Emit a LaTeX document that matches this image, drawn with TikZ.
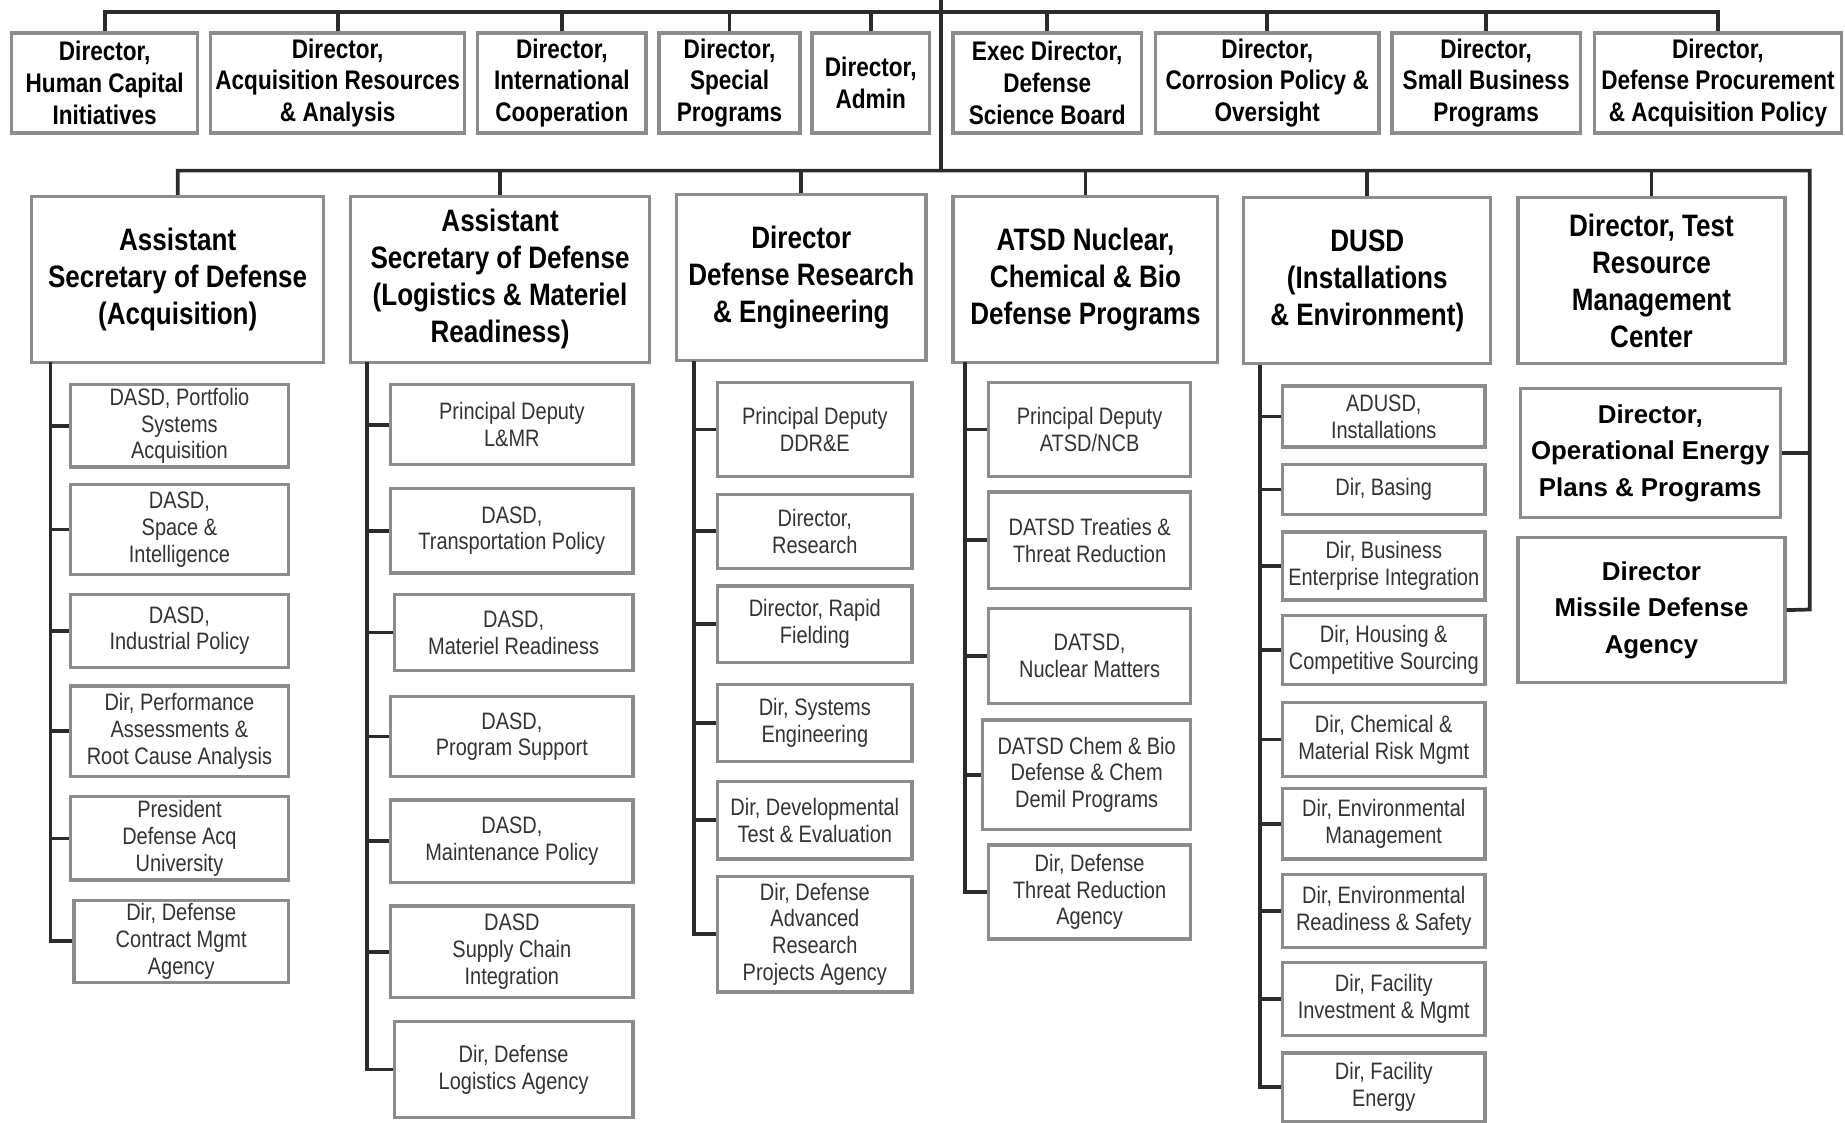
\documentclass[tikz,border=0pt]{standalone}
\usepackage{fontspec}
\setmainfont{Liberation Sans}[FakeStretch=0.84]
\newfontfamily\widefont{Liberation Sans}
\definecolor{boxgray}{HTML}{8C8C8C}
\definecolor{wiregray}{HTML}{2B2B2B}
\tikzset{
  box/.style={draw=boxgray, line width=1.6pt, fill=white, align=center, inner sep=1pt},
  topbox/.style={box, minimum height=1.7cm, font=\fontsize{13}{15.3}\selectfont\bfseries},
  headbox/.style={box, minimum height=2.82cm, font=\fontsize{15}{17.9}\selectfont\bfseries},
  sidebox/.style={box, font=\widefont\fontsize{12.5}{17.6}\selectfont\bfseries},
  subbox/.style={box, font=\fontsize{11.5}{13}\selectfont, text=black!80},
  wire/.style={draw=wiregray, line width=1.8pt},
}
\begin{document}
\begin{tikzpicture}[x=0.02cm, y=-0.02cm]
  \useasboundingbox (0,0) rectangle (1568,954);
  % first row of directors
  \node[topbox, minimum width=3.16cm] (hc) at (89,70.5) {Director,\\Human Capital\\Initiatives};
  \node[topbox, minimum width=4.32cm] (ar) at (287,70.5) {Director,\\Acquisition Resources\\\& Analysis};
  \node[topbox, minimum width=2.86cm] (ic) at (477.5,70.5) {Director,\\International\\Cooperation};
  \node[topbox, minimum width=2.4cm] (sp) at (620,70.5) {Director,\\Special\\Programs};
  \node[topbox, minimum width=2.0cm] (adm) at (740,70.5) {Director,\\Admin};
  \node[topbox, minimum width=3.2cm] (dsb) at (890,70.5) {Exec Director,\\Defense\\Science Board};
  \node[topbox, minimum width=3.8cm] (cpo) at (1077,70.5) {Director,\\Corrosion Policy \&\\Oversight};
  \node[topbox, minimum width=3.2cm] (sb) at (1263,70.5) {Director,\\Small Business\\Programs};
  \node[topbox, minimum width=4.2cm] (dpap) at (1460,70.5) {Director,\\Defense Procurement\\\& Acquisition Policy};
  % second row
  \node[headbox, minimum width=4.96cm] (asda) at (151,237.5) {Assistant\\Secretary of Defense\\(Acquisition)};
  \node[headbox, minimum width=5.08cm] (asdl) at (425,237.5) {Assistant\\Secretary of Defense\\(Logistics \& Materiel\\Readiness)};
  \node[headbox, minimum width=4.24cm] (ddre) at (681,236) {Director\\Defense Research\\\& Engineering};
  \node[headbox, minimum width=4.5cm] (atsd) at (922.5,237.5) {ATSD Nuclear,\\Chemical \& Bio\\Defense Programs};
  \node[headbox, minimum width=4.2cm] (dusd) at (1162,238.5) {DUSD\\(Installations\\\& Environment)};
  \node[headbox, minimum width=4.54cm] (trmc) at (1403.5,238.5) {Director, Test\\Resource\\Management\\Center};
  \node[sidebox, minimum width=4.42cm, minimum height=2.2cm] (oe) at (1402.5,385) {Director,\\Operational Energy\\Plans \& Programs};
  \node[sidebox, minimum width=4.54cm, minimum height=2.46cm] (mda) at (1403.5,518.5) {Director\\Missile Defense\\Agency};
  % acquisition column
  \node[subbox, minimum width=3.7cm, minimum height=1.4cm] (a1) at (152.5,362) {DASD, Portfolio\\Systems\\Acquisition};
  \node[subbox, minimum width=3.7cm, minimum height=1.52cm] (a2) at (152.5,450) {DASD,\\Space \&\\Intelligence};
  \node[subbox, minimum width=3.7cm, minimum height=1.24cm] (a3) at (152.5,536) {DASD,\\Industrial Policy};
  \node[subbox, minimum width=3.7cm, minimum height=1.54cm] (a4) at (152.5,621.5) {Dir, Performance\\Assessments \&\\Root Cause Analysis};
  \node[subbox, minimum width=3.7cm, minimum height=1.42cm] (a5) at (152.5,712.5) {President\\Defense Acq\\University};
  \node[subbox, minimum width=3.64cm, minimum height=1.4cm] (a6) at (154,800) {Dir, Defense\\Contract Mgmt\\Agency};
  % logistics column
  \node[subbox, minimum width=4.12cm, minimum height=1.36cm] (b1) at (435,361) {Principal Deputy\\L\&MR};
  \node[subbox, minimum width=4.12cm, minimum height=1.44cm] (b2) at (435,451) {DASD,\\Transportation Policy};
  \node[subbox, minimum width=4.06cm, minimum height=1.3cm] (b3) at (436.5,537.5) {DASD,\\Materiel Readiness};
  \node[subbox, minimum width=4.12cm, minimum height=1.36cm] (b4) at (435,626) {DASD,\\Program Support};
  \node[subbox, minimum width=4.12cm, minimum height=1.4cm] (b5) at (435,715) {DASD,\\Maintenance Policy};
  \node[subbox, minimum width=4.12cm, minimum height=1.56cm] (b6) at (435,809) {DASD\\Supply Chain\\Integration};
  \node[subbox, minimum width=4.06cm, minimum height=1.64cm] (b7) at (436.5,909) {Dir, Defense\\Logistics Agency};
  % research column
  \node[subbox, minimum width=3.3cm, minimum height=1.6cm] (c1) at (692.5,365) {Principal Deputy\\DDR\&E};
  \node[subbox, minimum width=3.3cm, minimum height=1.26cm] (c2) at (692.5,451.5) {Director,\\Research};
  \node[subbox, minimum width=3.3cm, minimum height=1.3cm] (c3) at (692.5,530.5) {Director, Rapid\\Fielding};
  \node[subbox, minimum width=3.3cm, minimum height=1.3cm] (c4) at (692.5,614.5) {Dir, Systems\\Engineering};
  \node[subbox, minimum width=3.3cm, minimum height=1.32cm] (c5) at (692.5,697) {Dir, Developmental\\Test \& Evaluation};
  \node[subbox, minimum width=3.3cm, minimum height=1.96cm] (c6) at (692.5,794) {Dir, Defense\\Advanced\\Research\\Projects Agency};
  % nuclear, chemical and bio column
  \node[subbox, minimum width=3.44cm, minimum height=1.6cm] (d1) at (926,365) {Principal Deputy\\ATSD/NCB};
  \node[subbox, minimum width=3.44cm, minimum height=1.64cm] (d2) at (926,459) {DATSD Treaties \&\\Threat Reduction};
  \node[subbox, minimum width=3.44cm, minimum height=1.62cm] (d3) at (926,557.5) {DATSD,\\Nuclear Matters};
  \node[subbox, minimum width=3.54cm, minimum height=1.86cm] (d4) at (923.5,658.5) {DATSD Chem \& Bio\\Defense \& Chem\\Demil Programs};
  \node[subbox, minimum width=3.44cm, minimum height=1.6cm] (d5) at (926,758) {Dir, Defense\\Threat Reduction\\Agency};
  % installations column
  \node[subbox, minimum width=3.44cm, minimum height=1.04cm] (e1) at (1176,354) {ADUSD,\\Installations};
  \node[subbox, minimum width=3.44cm, minimum height=0.84cm] (e2) at (1176,416) {Dir, Basing};
  \node[subbox, minimum width=3.44cm, minimum height=1.16cm] (e3) at (1176,481) {Dir, Business\\Enterprise Integration};
  \node[subbox, minimum width=3.44cm, minimum height=1.18cm] (e4) at (1176,552.5) {Dir, Housing \&\\Competitive Sourcing};
  \node[subbox, minimum width=3.44cm, minimum height=1.26cm] (e5) at (1176,628.5) {Dir, Chemical \&\\Material Risk Mgmt};
  \node[subbox, minimum width=3.44cm, minimum height=1.2cm] (e6) at (1176,700) {Dir, Environmental\\Management};
  \node[subbox, minimum width=3.44cm, minimum height=1.24cm] (e7) at (1176,774) {Dir, Environmental\\Readiness \& Safety};
  \node[subbox, minimum width=3.44cm, minimum height=1.24cm] (e8) at (1176,849) {Dir, Facility\\Investment \& Mgmt};
  \node[subbox, minimum width=3.44cm, minimum height=1.16cm] (e9) at (1176,924) {Dir, Facility\\Energy};
  % trunk and bars
  \coordinate (root) at (800,0);
  \coordinate (bar1) at (800,10);
  \coordinate (bar2) at (800,145);
  \coordinate (rc) at (1538,518);
  \draw[wire] (root) -- (bar2); % trunk
  \draw[wire] (hc.north) |- (bar1) -| (dpap.north); % top bar
  \foreach \n in {ar,ic,sp,adm,dsb,cpo,sb}
    \draw[wire] (\n.north) -- (\n.north |- bar1);
  \draw[wire] (asda.north) |- (bar2) -| (rc) -- (mda.east); % second bar
  \foreach \n in {asdl,ddre,atsd,dusd,trmc}
    \draw[wire] (\n.north) -- (\n.north |- bar2);
  \draw[wire] (oe.east) -- (oe.east -| rc);
  % spines
  \draw[wire] (43,308) |- (a6.west);
  \foreach \n in {a1,a2,a3,a4,a5}
    \draw[wire] (\n.west) -- (43,0 |- \n.west);
  \draw[wire] (312,308) |- (b7.west);
  \foreach \n in {b1,b2,b3,b4,b5,b6}
    \draw[wire] (\n.west) -- (312,0 |- \n.west);
  \draw[wire] (590,307) |- (c6.west);
  \foreach \n in {c1,c2,c3,c4,c5}
    \draw[wire] (\n.west) -- (590,0 |- \n.west);
  \draw[wire] (820,308) |- (d5.west);
  \foreach \n in {d1,d2,d3,d4}
    \draw[wire] (\n.west) -- (820,0 |- \n.west);
  \draw[wire] (1071,310) |- (e9.west);
  \foreach \n in {e1,e2,e3,e4,e5,e6,e7,e8}
    \draw[wire] (\n.west) -- (1071,0 |- \n.west);
\end{tikzpicture}
\end{document}
